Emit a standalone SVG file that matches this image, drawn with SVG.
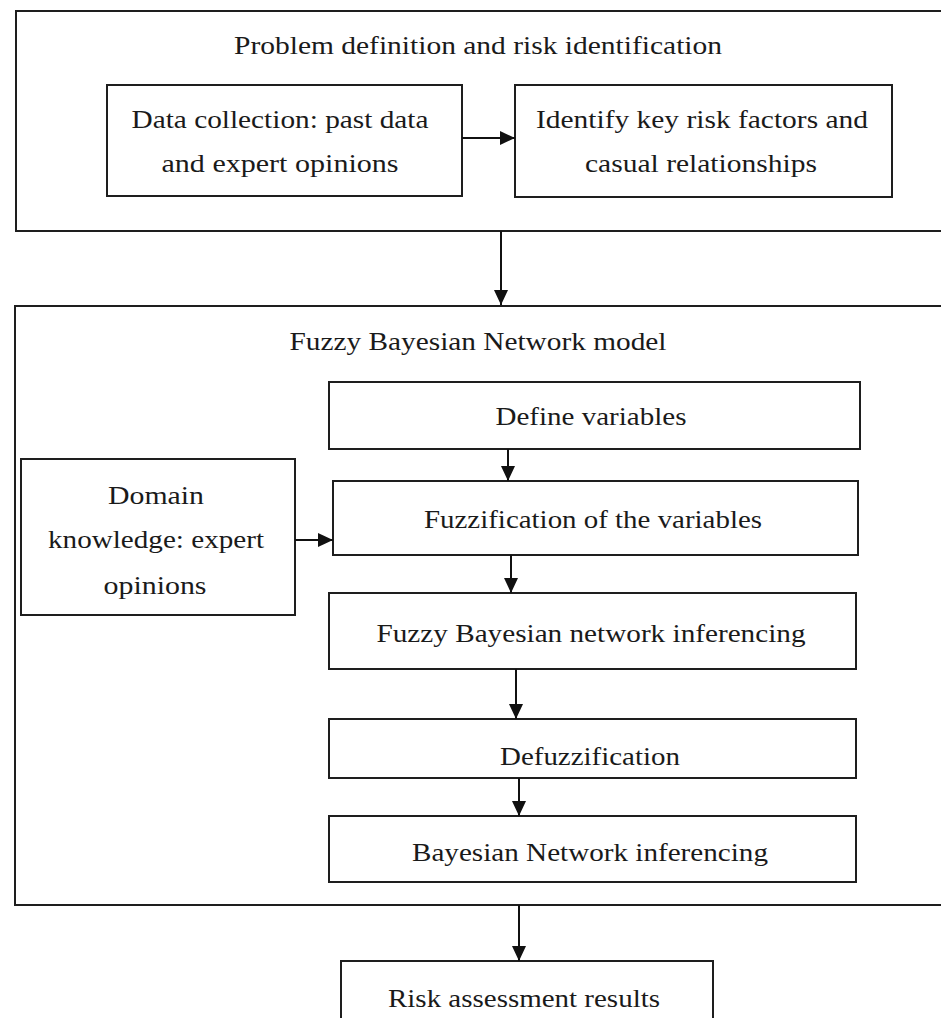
<svg xmlns="http://www.w3.org/2000/svg" width="941" height="1018" viewBox="0 0 941 1018">
<style>
.box{fill:none;stroke:#1e1e1e;stroke-width:2}
.t{font-family:"Liberation Serif","Times New Roman",serif;font-size:25px;fill:#1a1a1a;text-anchor:middle}
.c{stroke:#111;stroke-width:2;fill:none}
</style>
<defs>
<marker id="ah" markerUnits="userSpaceOnUse" markerWidth="16" markerHeight="16" viewBox="0 0 16 16" refX="15" refY="8" orient="auto">
<path d="M0,1 L15,8 L0,15 Z" fill="#111"/>
</marker>
</defs>
<rect width="941" height="1018" fill="#fff"/>
<g id="outer-problem">
<rect class="box" x="16" y="11" width="950" height="220"/>
<text class="t" x="478" y="54" textLength="488" lengthAdjust="spacingAndGlyphs">Problem definition and risk identification</text>
</g>
<g id="data-collection">
<rect class="box" x="107" y="85" width="355" height="111"/>
<text class="t" x="280" y="128" textLength="297" lengthAdjust="spacingAndGlyphs">Data collection: past data</text>
<text class="t" x="280" y="172" textLength="237" lengthAdjust="spacingAndGlyphs">and expert opinions</text>
</g>
<g id="identify">
<rect class="box" x="515" y="85" width="377" height="112"/>
<text class="t" x="702" y="128" textLength="332" lengthAdjust="spacingAndGlyphs">Identify key risk factors and</text>
<text class="t" x="701" y="172" textLength="232" lengthAdjust="spacingAndGlyphs">casual relationships</text>
</g>
<g id="outer-fbn">
<rect class="box" x="15" y="306" width="950" height="599"/>
<text class="t" x="478" y="350" textLength="377" lengthAdjust="spacingAndGlyphs">Fuzzy Bayesian Network model</text>
</g>
<g id="define">
<rect class="box" x="329" y="382" width="531" height="67"/>
<text class="t" x="591" y="425" textLength="191" lengthAdjust="spacingAndGlyphs">Define variables</text>
</g>
<g id="domain">
<rect class="box" x="21" y="459" width="274" height="156"/>
<text class="t" x="156" y="504" textLength="96" lengthAdjust="spacingAndGlyphs">Domain</text>
<text class="t" x="156" y="548" textLength="216" lengthAdjust="spacingAndGlyphs">knowledge: expert</text>
<text class="t" x="155" y="594" textLength="103" lengthAdjust="spacingAndGlyphs">opinions</text>
</g>
<g id="fuzzification">
<rect class="box" x="333" y="481" width="525" height="74"/>
<text class="t" x="593" y="528" textLength="338" lengthAdjust="spacingAndGlyphs">Fuzzification of the variables</text>
</g>
<g id="fbn-inferencing">
<rect class="box" x="329" y="593" width="527" height="76"/>
<text class="t" x="591" y="642" textLength="429" lengthAdjust="spacingAndGlyphs">Fuzzy Bayesian network inferencing</text>
</g>
<g id="defuzzification">
<rect class="box" x="329" y="719" width="527" height="59"/>
<text class="t" x="590" y="765" textLength="180" lengthAdjust="spacingAndGlyphs">Defuzzification</text>
</g>
<g id="bn-inferencing">
<rect class="box" x="329" y="816" width="527" height="66"/>
<text class="t" x="590" y="861" textLength="356" lengthAdjust="spacingAndGlyphs">Bayesian Network inferencing</text>
</g>
<g id="risk-results">
<rect class="box" x="341" y="961" width="372" height="80"/>
<text class="t" x="524" y="1007" textLength="272" lengthAdjust="spacingAndGlyphs">Risk assessment results</text>
</g>
<g id="connectors">
<line class="c" x1="462" y1="138" x2="515" y2="138" marker-end="url(#ah)"/>
<line class="c" x1="501" y1="231" x2="501" y2="305" marker-end="url(#ah)"/>
<line class="c" x1="508" y1="449" x2="508" y2="481" marker-end="url(#ah)"/>
<line class="c" x1="295" y1="540" x2="333" y2="540" marker-end="url(#ah)"/>
<line class="c" x1="511" y1="555" x2="511" y2="593" marker-end="url(#ah)"/>
<line class="c" x1="516" y1="669" x2="516" y2="719" marker-end="url(#ah)"/>
<line class="c" x1="519" y1="778" x2="519" y2="816" marker-end="url(#ah)"/>
<line class="c" x1="519" y1="905" x2="519" y2="961" marker-end="url(#ah)"/>
</g>
</svg>
